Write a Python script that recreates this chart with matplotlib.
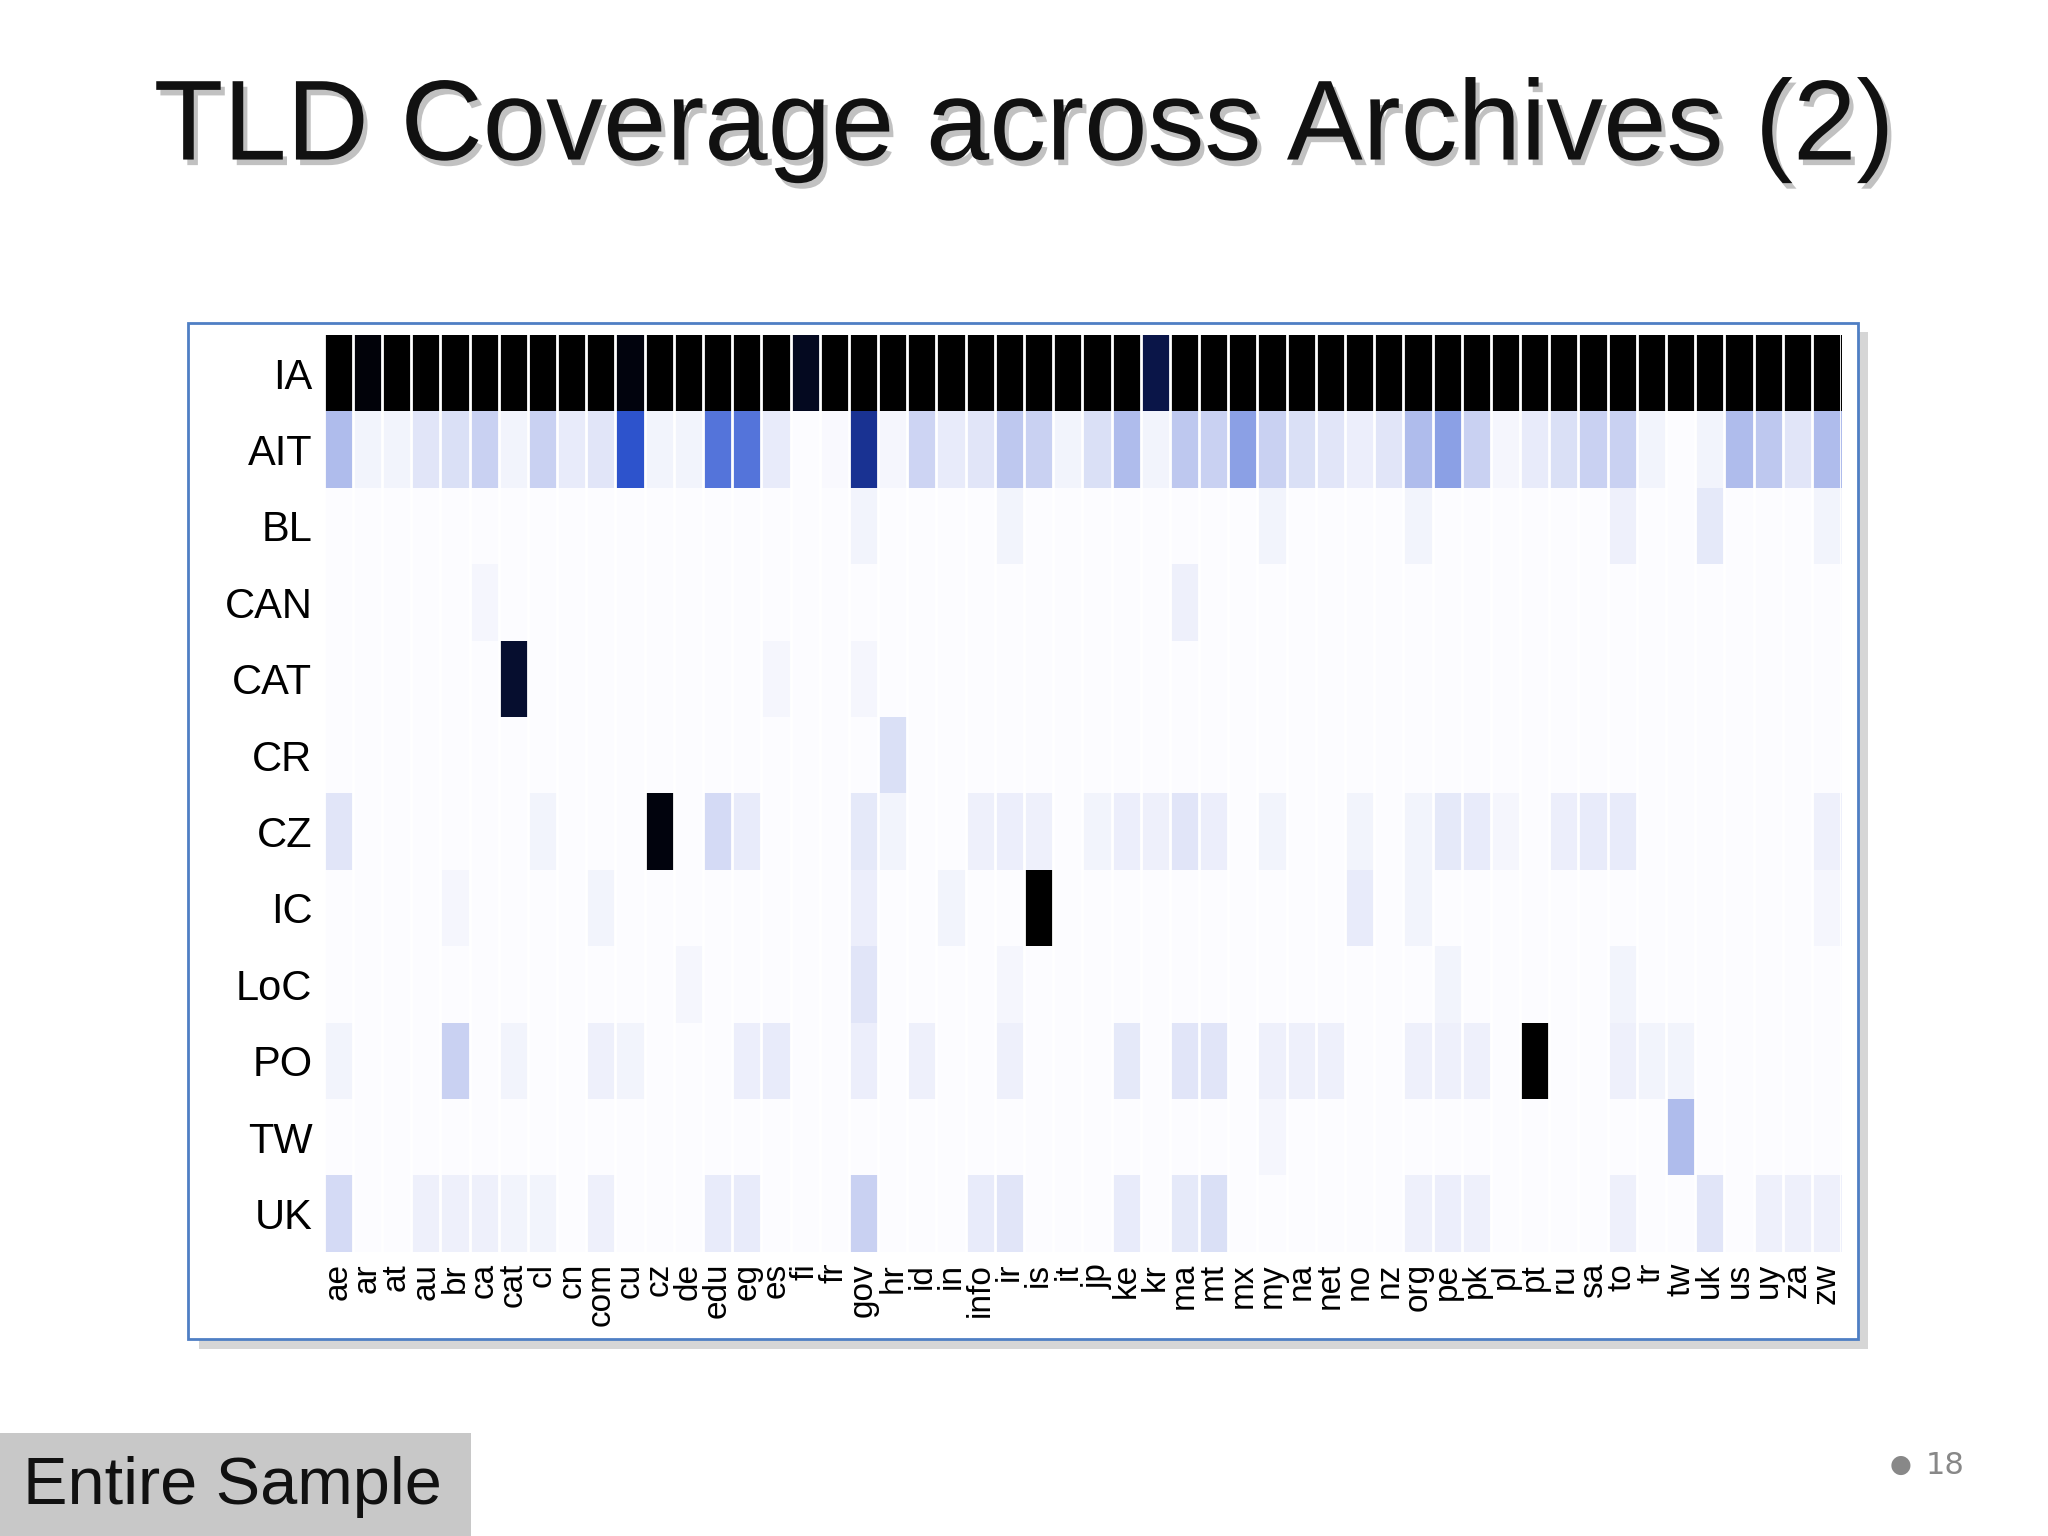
import numpy as np
import matplotlib.pyplot as plt
import matplotlib.patheffects as pe
from matplotlib.colors import LinearSegmentedColormap
from matplotlib.patches import Rectangle

tlds = ["ae", "ar", "at", "au", "br", "ca", "cat", "cl", "cn", "com", "cu", "cz", "de",
        "edu", "eg", "es", "fi", "fr", "gov", "hr", "id", "in", "info", "ir", "is", "it",
        "jp", "ke", "kr", "ma", "mt", "mx", "my", "na", "net", "no", "nz", "org", "pe",
        "pk", "pl", "pt", "ru", "sa", "to", "tr", "tw", "uk", "us", "uy", "za", "zw"]
archives = ["IA", "AIT", "BL", "CAN", "CAT", "CR", "CZ", "IC", "LoC", "PO", "TW", "UK"]

ia_row = {t: 1.0 for t in tlds}
ia_row.update({"fi": 0.93, "kr": 0.85, "cu": 0.97, "ar": 0.98})
ait_row = {"ae": .22, "ar": .03, "at": .03, "au": .08, "br": .1, "ca": .15, "cat": .03,
           "cl": .15, "cn": .06, "com": .08, "cu": .52, "cz": .03, "de": .03, "edu": .42,
           "eg": .42, "es": .06, "fr": .01, "gov": .68, "hr": .02, "id": .14, "in": .06,
           "info": .08, "ir": .18, "is": .15, "it": .03, "jp": .1, "ke": .22, "kr": .03,
           "ma": .18, "mt": .15, "mx": .3, "my": .15, "na": .1, "net": .08, "no": .05,
           "nz": .08, "org": .22, "pe": .3, "pk": .15, "pl": .02, "pt": .06, "ru": .1,
           "sa": .15, "to": .15, "tr": .03, "uk": .03, "us": .22, "uy": .18, "za": .08,
           "zw": .22}
bl_row = {"ir": .03, "gov": .03, "my": .03, "org": .03, "to": .04, "uk": .07, "zw": .03}
can_row = {"ca": .02, "ma": .04}
cat_row = {"cat": .9, "es": .02, "gov": .02}
cr_row = {"hr": .1}
cz_row = {"ae": .08, "cl": .03, "cz": .97, "edu": .12, "eg": .06, "gov": .07, "hr": .03,
          "info": .04, "ir": .05, "is": .04, "jp": .03, "ke": .05, "kr": .04, "ma": .08,
          "mt": .05, "my": .03, "no": .03, "org": .03, "pe": .07, "pk": .06, "pl": .02,
          "ru": .05, "sa": .06, "to": .06, "zw": .04}
ic_row = {"br": .02, "com": .03, "gov": .05, "in": .03, "is": 1.0, "no": .06, "org": .03, "zw": .02}
loc_row = {"gov": .08, "de": .02, "pe": .03, "to": .03, "ir": .02}
po_row = {"ae": .03, "br": .15, "cat": .03, "com": .04, "cu": .03, "eg": .05, "es": .06,
          "gov": .05, "id": .04, "ir": .04, "ke": .07, "ma": .08, "mt": .08, "my": .04,
          "na": .04, "net": .04, "org": .04, "pe": .04, "pk": .04, "pt": 1.0, "tr": .03,
          "tw": .03, "to": .04}
tw_row = {"tw": .22, "my": .02}
uk_row = {"ae": .12, "au": .04, "br": .04, "ca": .04, "cat": .03, "cl": .03, "com": .04,
          "edu": .06, "eg": .06, "gov": .15, "info": .06, "ir": .08, "ke": .06, "ma": .07,
          "mt": .1, "org": .04, "pe": .05, "pk": .04, "to": .04, "uk": .08, "uy": .04,
          "za": .04, "zw": .04}
rows = [ia_row, ait_row, bl_row, can_row, cat_row, cr_row, cz_row, ic_row, loc_row,
        po_row, tw_row, uk_row]

data = np.array([[r.get(t, 0.0) for t in tlds] for r in rows])

cmap = LinearSegmentedColormap.from_list(
    "wb", [(0, "#fcfcff"), (0.2, "#b8c3ee"), (0.5, "#3058d4"), (0.75, "#11247a"),
           (1, "#000000")], N=256)

fig = plt.figure(figsize=(20.48, 15.36), dpi=100)
fig.patch.set_facecolor("white")
fig.text(0.5, 0.915, "TLD Coverage across Archives (2)", ha="center", va="center",
         fontsize=82, family="Liberation Sans", color="#111111",
         path_effects=[pe.SimplePatchShadow(offset=(3, -4), shadow_rgbFace="#999999",
                                            alpha=0.6), pe.Normal()])

# framed panel with shadow
fig.patches.append(Rectangle((0.097, 0.122), 0.815, 0.662, transform=fig.transFigure,
                             facecolor="#bbbbbb", edgecolor="none", alpha=0.6, zorder=0))
fig.patches.append(Rectangle((0.092, 0.128), 0.815, 0.662, transform=fig.transFigure,
                             facecolor="white", edgecolor="#4f7fc4", linewidth=2, zorder=1))

ax = fig.add_axes([0.158, 0.185, 0.741, 0.597])
ax.set_zorder(2)
ax.imshow(data, cmap=cmap, vmin=0, vmax=1, aspect="auto", interpolation="nearest")
# white gaps between columns
for i in range(len(tlds) + 1):
    ax.axvline(i - 0.5, color="white", linewidth=2)
ax.set_xticks(range(len(tlds)))
ax.set_xticklabels(tlds, rotation=90, fontsize=24, family="Liberation Sans")
ax.set_yticks(range(len(archives)))
ax.set_yticklabels(archives, fontsize=30, family="Liberation Sans")
ax.tick_params(length=0, pad=8)
for s in ax.spines.values():
    s.set_visible(False)

fig.patches.append(Rectangle((0, 0), 0.23, 0.067, transform=fig.transFigure,
                             facecolor="#c8c8c8", edgecolor="none"))
fig.text(0.011, 0.032, "Entire Sample", ha="left", va="center", fontsize=48,
         family="Liberation Sans", color="#111111")
fig.text(0.928, 0.046, "●", ha="center", va="center", fontsize=18, color="#888888")
fig.text(0.95, 0.046, "18", ha="center", va="center", fontsize=22, color="#888888")

fig.savefig("out.png", dpi=100)
